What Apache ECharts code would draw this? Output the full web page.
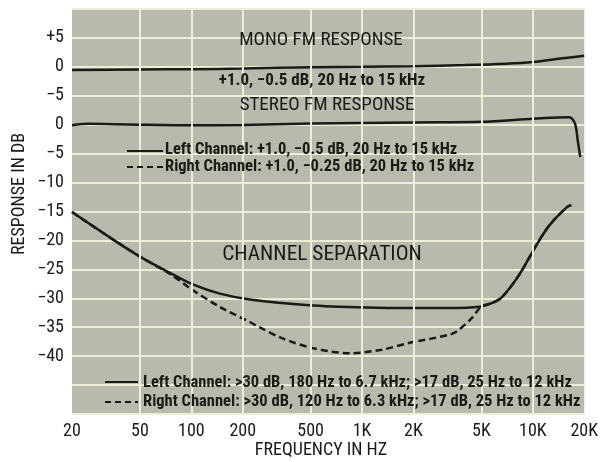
<!DOCTYPE html>
<html>
<head>
<meta charset="utf-8">
<title>FM response</title>
<script src="https://cdn.jsdelivr.net/npm/echarts@6/dist/echarts.min.js"></script>
<style>
  html, body { margin: 0; padding: 0; background: #fff; }
  #main { width: 601px; height: 462px; }
</style>
</head>
<body>
<div id="main"></div>
<script>
// x ticks (Hz) and printed labels
var xTickFreqs = [20, 50, 100, 200, 500, 1000, 2000, 5000, 10000, 20000];
var xTickLabels = ['20', '50', '100', '200', '500', '1K', '2K', '5K', '10K', '20K'];
// one dB scale for the whole plot, the mono block sits 10 dB higher
var yTickValues = [15, 10, 5, 0, -5, -10, -15, -20, -25, -30, -35, -40];
var yTickLabels = ['+5', '0', '−5', '0', '−5', '−10', '−15', '−20', '−25', '−30', '−35', '−40'];

// mono FM response
var monoFreq = [20, 50, 100, 200, 500, 1000, 2000, 4000, 7000, 10000, 15000, 20000];
var monoDb = [-0.55, -0.45, -0.4, -0.3, -0.05, 0, 0.1, 0.3, 0.55, 0.85, 1.5, 1.9];

// stereo FM response
var stereoFreq = [20, 25, 35, 50, 100, 200, 500, 1000, 2000, 5000, 10000, 14000, 16300, 17500, 18000, 18300, 18700, 18950];
var stereoDb = [-0.1, 0.15, 0.1, 0, -0.1, -0.05, 0.2, 0.3, 0.4, 0.5, 1.05, 1.25, 1.3, 0.5, -0.9, -2.6, -4.4, -5.6];

// channel separation, left channel
var sepLeftFreq = [20, 35, 52, 75, 102, 147, 220, 490, 1060, 2000, 3250, 5000, 5800, 6600, 8300, 10500, 12500, 15900, 16800];
var sepLeftDb = [-15.1, -19.9, -23.1, -25.6, -27.6, -29.2, -30.2, -31.2, -31.6, -31.7, -31.7, -31.4, -30.8, -29.8, -26.0, -20.8, -17.4, -14.2, -13.9];

// channel separation, right channel
var sepRightFreq = [20, 35, 52, 75, 102, 147, 220, 250, 340, 510, 850, 1300, 1900, 3250, 3600, 4400, 5000, 5800, 6600, 8300, 10500, 12500, 15900, 16800];
var sepRightDb = [-15.1, -19.9, -23.1, -25.8, -28.6, -31.5, -34.1, -35.0, -36.9, -38.6, -39.5, -38.9, -37.7, -36.3, -35.7, -33.4, -31.4, -30.8, -29.8, -26.0, -20.8, -17.4, -14.2, -13.9];

var MONO_SHIFT = 10;
var FONT = "'Roboto Condensed', 'DejaVu Sans Condensed', sans-serif";
var INK = '#1a1a17';
var GRID = '#eeedda';

function pts(freq, db, shift) {
  return freq.map(function (f, i) { return [Math.log10(f), db[i] + (shift || 0)]; });
}

function curve(name, data, dashed) {
  return {
    name: name,
    type: 'line',
    data: data,
    z: 3,
    smooth: 0.3,
    showSymbol: false,
    silent: true,
    lineStyle: { color: INK, width: 2.5, type: dashed ? [7, 4] : 'solid' }
  };
}

function label(text, x, y, size, opts) {
  opts = opts || {};
  return {
    type: 'text', x: x, y: y, z: 10,
    rotation: opts.rotation || 0,
    scaleX: opts.scaleX || 1,
    style: {
      text: text,
      font: (opts.bold ? 'bold ' : '') + size + 'px ' + FONT,
      fill: INK,
      align: opts.align || 'center',
      verticalAlign: 'middle'
    }
  };
}

var myChart = echarts.init(document.getElementById('main'));
var option = {
  backgroundColor: '#ffffff',
  animation: false,
  grid: {
    left: 72, right: 16, top: 9, bottom: 48,
    show: true, backgroundColor: '#b7baad', borderWidth: 0
  },
  xAxis: {
    type: 'value',
    min: Math.log10(20),
    max: Math.log10(20000),
    axisLine: { show: false },
    axisTick: { show: false },
    splitLine: { show: false },
    axisLabel: {
      customValues: xTickFreqs.map(function (f) { return Math.log10(f); }),
      margin: 8,
      color: INK,
      fontFamily: FONT,
      fontSize: 18,
      formatter: function (v) {
        for (var i = 0; i < xTickFreqs.length; i++) {
          if (Math.abs(Math.log10(xTickFreqs[i]) - v) < 1e-6) return xTickLabels[i];
        }
        return '';
      }
    }
  },
  yAxis: {
    type: 'value',
    min: -50,
    max: 20,
    interval: 5,
    axisLine: { show: false },
    axisTick: { show: false },
    splitLine: { show: true, lineStyle: { color: GRID, width: 2 } },
    axisLabel: {
      margin: 8,
      color: INK,
      fontFamily: FONT,
      fontSize: 18,
      formatter: function (v) {
        var i = yTickValues.indexOf(v);
        return i < 0 ? '' : yTickLabels[i];
      }
    }
  },
  graphic: [
    label('RESPONSE IN DB', 19, 194, 18, { rotation: Math.PI / 2 }),
    label('FREQUENCY IN HZ', 321, 450, 18),
    label('MONO FM RESPONSE', 321, 40, 19),
    label('+1.0, −0.5 dB, 20 Hz to 15 kHz', 322, 81, 17, { bold: true }),
    label('STEREO FM RESPONSE', 327, 105, 19),
    { type: 'line', z: 10, shape: { x1: 127, y1: 151, x2: 163, y2: 151 }, style: { stroke: INK, lineWidth: 2 } },
    label('Left Channel: +1.0, −0.5 dB, 20 Hz to 15 kHz', 165, 150, 16.5, { bold: true, align: 'left' }),
    { type: 'line', z: 10, shape: { x1: 127, y1: 167, x2: 163, y2: 167 }, style: { stroke: INK, lineWidth: 2, lineDash: [6, 4] } },
    label('Right Channel: +1.0, −0.25 dB, 20 Hz to 15 kHz', 165, 167, 16.5, { bold: true, align: 'left' }),
    label('CHANNEL SEPARATION', 322, 255, 20, { scaleX: 1.07 }),
    { type: 'line', z: 10, shape: { x1: 105, y1: 382, x2: 138, y2: 382 }, style: { stroke: INK, lineWidth: 2 } },
    label('Left Channel: >30 dB, 180 Hz to 6.7 kHz; >17 dB, 25 Hz to 12 kHz', 143, 383, 16.5, { bold: true, align: 'left' }),
    { type: 'line', z: 10, shape: { x1: 105, y1: 402, x2: 138, y2: 402 }, style: { stroke: INK, lineWidth: 2, lineDash: [6, 4] } },
    label('Right Channel: >30 dB, 120 Hz to 6.3 kHz; >17 dB, 25 Hz to 12 kHz', 143, 402, 16.5, { bold: true, align: 'left' })
  ],
  series: [
    {
      // vertical grid lines at the labelled frequencies
      type: 'line',
      data: [],
      z: 1,
      silent: true,
      markLine: {
        silent: true,
        symbol: 'none',
        label: { show: false },
        lineStyle: { color: GRID, width: 2, type: 'solid' },
        data: xTickFreqs.slice(1, -1).map(function (f) { return { xAxis: Math.log10(f) }; })
      }
    },
    curve('mono', pts(monoFreq, monoDb, MONO_SHIFT), false),
    curve('stereo', pts(stereoFreq, stereoDb), false),
    curve('sepLeft', pts(sepLeftFreq, sepLeftDb), false),
    curve('sepRight', pts(sepRightFreq, sepRightDb), true)
  ]
};
myChart.setOption(option);
</script>
</body>
</html>
